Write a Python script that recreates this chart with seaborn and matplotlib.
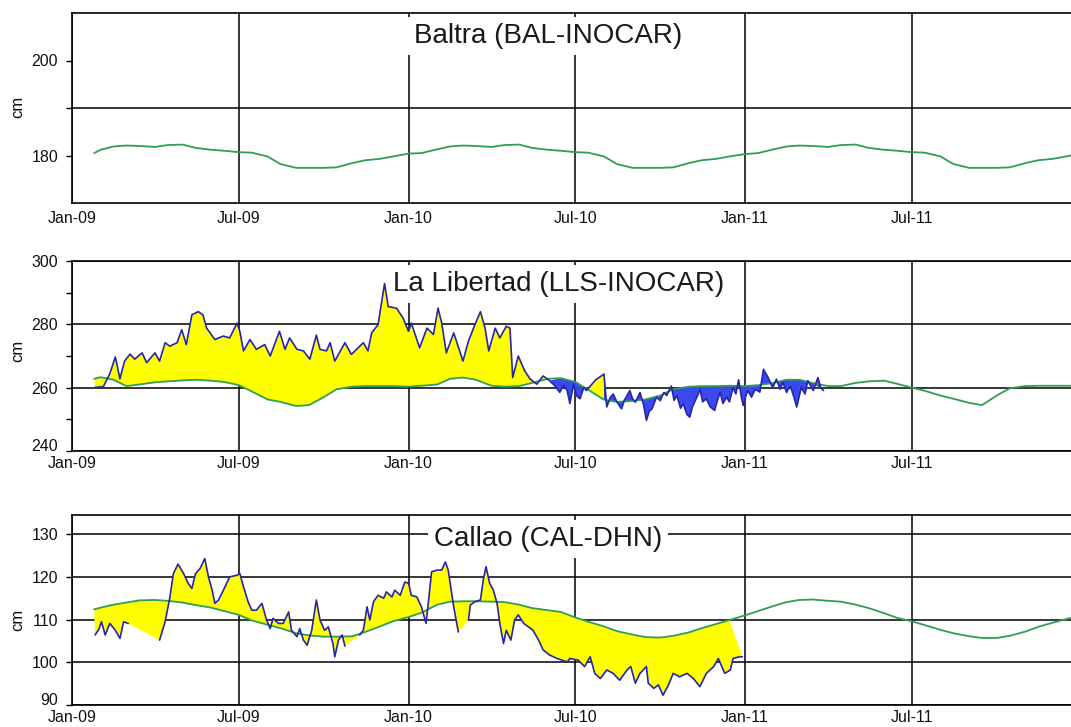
import numpy as np
import pandas as pd
import matplotlib
matplotlib.use("Agg")
import matplotlib.pyplot as plt
import matplotlib.dates as mdates
import seaborn as sns

# ---------------- data ----------------
BASE = "2009-01-01"
# predicted (green) series: 2009-01-25, then 1st/15th of each month, then 2011-12-20
pred_first, pred_last = "2009-01-25", "2011-12-20"

bal_pred = [180.5, 181.2, 181.9, 182.1, 182.0, 181.8, 182.2, 182.3, 181.6, 181.2, 181.0, 180.7,
            180.6, 179.8, 178.2, 177.4, 177.4, 177.4, 177.5, 178.4, 179.0, 179.3, 179.8,
            180.4, 180.5, 181.3, 181.9, 182.1, 182.0, 181.8, 182.2, 182.3, 181.6, 181.2, 181.0,
            180.7, 180.6, 179.8, 178.2, 177.4, 177.4, 177.4, 177.5, 178.4, 179.0, 179.3, 179.8,
            180.3, 180.5, 181.3, 181.9, 182.1, 182.0, 181.8, 182.2, 182.3, 181.6, 181.2, 181.0,
            180.7, 180.6, 179.8, 178.2, 177.4, 177.4, 177.4, 177.5, 178.4, 179.0, 179.3, 179.8, 180.0]

lib_pred = [262.8, 263.3, 262.5, 260.5, 261.0, 261.7, 262.0, 262.3, 262.5, 262.2, 261.8, 260.8,
            258.8, 256.3, 255.5, 254.2, 254.5, 257.0, 259.5, 260.3, 260.5, 260.5, 260.5,
            260.3, 260.6, 261.0, 262.8, 263.2, 262.5, 260.6, 260.3, 260.5, 261.5, 262.8, 263.0,
            261.8, 259.3, 256.2, 255.5, 255.8, 256.3, 257.5, 259.5, 260.3, 260.5, 260.5, 260.6,
            260.5, 260.8, 261.5, 262.5, 262.5, 261.5, 260.5, 260.5, 261.5, 262.0, 262.2, 261.2,
            260.0, 259.0, 257.5, 256.5, 255.2, 254.5, 257.5, 259.8, 260.5, 260.6, 260.6, 260.6, 260.6]

cal_pred = [112.4, 112.8, 113.5, 114.0, 114.5, 114.6, 114.4, 114.0, 113.4, 112.8, 112.0, 111.1,
            109.8, 108.8, 108.0, 106.8, 106.3, 106.0, 106.0, 106.1, 107.1, 108.4, 109.6,
            110.6, 111.6, 113.5, 114.2, 114.3, 114.3, 114.2, 114.1, 113.5, 112.7, 112.2, 111.8,
            110.5, 109.5, 108.4, 107.3, 106.5, 105.9, 105.8, 106.2, 107.0, 108.0, 109.0, 109.9,
            111.0, 112.0, 113.2, 114.1, 114.6, 114.7, 114.4, 114.2, 113.5, 112.7, 111.5, 110.4,
            109.6, 108.7, 107.6, 106.8, 106.1, 105.7, 105.7, 106.2, 107.2, 108.3, 109.3, 110.1, 110.4]

# observed (blue) series: day offsets from 2009-01-01 and values
lib_obs_day = [25, 34, 41, 47, 52, 57, 63, 68, 76, 81, 90, 95, 101, 106, 114, 119, 124, 130, 137, 142,
               146, 155, 164, 171, 179, 182, 186, 193, 200, 209, 215, 225, 231, 236, 244, 251, 258,
               265, 269, 276, 280, 285, 296, 303, 316, 321, 325, 332, 339, 343, 352, 359, 365, 368,
               377, 385, 392, 397, 401, 406, 414, 424, 430, 437, 443, 448, 452, 459, 464, 471, 475,
               478, 484, 491, 497, 504, 511, 518,
               524, 529, 533, 537, 540, 544, 547, 551, 555, 558, 568, 577, 580, 584, 587, 591, 596,
               599, 602, 605, 608, 611, 616, 620, 623, 626, 629, 634, 638, 642, 645, 650, 653, 656,
               660, 663, 667, 670, 673, 676, 679, 681, 684, 688, 692, 697, 700, 703, 706, 710, 713,
               717, 720, 723, 726, 728, 731, 733, 737, 741, 746, 750, 755, 760, 764, 768, 771, 775,
               779, 783, 786, 791, 795, 798, 804, 809, 812, 815]
lib_obs = [260.1, 260.3, 264.4, 269.7, 262.8, 268.4, 270.6, 269.0, 271.0, 267.9, 271.0, 268.4, 274.2,
           273.1, 274.2, 278.3, 273.6, 283.0, 284.0, 283.0, 278.8, 275.2, 276.3, 275.7, 280.4, 277.8,
           271.6, 275.2, 272.1, 273.6, 270.0, 277.8, 272.1, 275.7, 272.1, 271.6, 269.0, 276.6, 272.1,
           271.6, 274.2, 268.4, 274.2, 270.5, 274.2, 271.6, 277.3, 279.9, 292.9, 285.6, 285.1, 282.0,
           277.8, 280.4, 272.6, 278.8, 276.8, 285.1, 280.4, 271.0, 277.3, 268.4, 274.7, 279.9, 284.0,
           278.8, 271.6, 278.8, 275.7, 279.4, 278.8, 263.2, 270.0, 265.3, 262.7, 261.1, 263.7, 262.2,
           260.5, 258.5, 260.8, 259.1, 255.0, 261.1, 257.5, 256.5, 260.0, 259.1,
           262.5, 264.3, 253.9, 257.0, 258.0, 255.5, 253.3, 256.0, 257.5, 259.1,
           256.5, 255.4, 258.5, 254.5, 249.7, 252.5, 253.3, 257.0, 255.9, 258.5,
           257.5, 260.5, 256.0, 257.5, 253.5, 254.9, 251.5, 250.7, 254.0, 255.9,
           257.8, 259.6, 255.5, 256.5, 254.0, 252.8, 256.0, 258.5, 255.0, 257.0,
           255.5, 260.0, 258.0, 262.5, 257.0, 254.4, 257.5, 259.1, 257.0, 259.5,
           258.6, 265.8, 263.2, 260.0, 262.7, 259.5, 261.7, 258.5, 260.6, 257.0,
           253.9, 260.1, 258.0, 262.2, 259.1, 263.2, 260.0, 259.1]
lib_yellow_periods = [(24, 518), (558, 577)]
lib_blue_periods = [(518, 815)]

cal_obs_day = [25, 29, 32, 36, 41, 47, 52, 56, 61, 78,
               95, 101, 106, 110, 115, 121, 126, 130, 134, 139, 144, 148, 152, 155, 159, 166, 171,
               179, 182, 186, 191, 195, 200, 206, 211, 215, 218, 224, 229, 235, 238, 244, 247, 251,
               255, 260, 265, 269, 274, 278, 283, 285, 289, 293, 296, 304,
               312, 316, 320, 323, 327, 332, 338, 341, 347, 350, 356, 361, 365, 368, 374, 379, 384,
               386, 390, 396, 401, 405, 408, 414, 419, 425,
               430, 432, 437, 443, 446, 449, 453, 457, 461, 464, 468, 471, 476, 480, 484, 490, 495,
               500, 506, 511, 518, 526, 537, 540, 549, 556, 562, 567, 573, 580, 587, 594, 602, 606,
               611, 616, 623, 625, 631, 636, 641, 647, 652, 659, 667, 674, 681, 688, 696, 701, 708,
               714, 717, 724, 727]
cal_obs = [106.4, 107.7, 109.5, 106.4, 109.1, 107.5, 105.6, 109.5, 109.1, np.nan,
           105.2, 109.5, 115.0, 120.8, 123.0, 120.8, 118.5, 117.3, 120.8, 122.0, 124.3, 120.0, 116.9,
           113.8, 114.6, 117.7, 120.0, 120.4, 120.8, 117.7, 114.2, 112.2, 112.2, 113.8, 109.9, 107.9,
           110.3, 109.1, 109.1, 111.8, 107.5, 106.0, 107.9, 105.2, 104.0, 107.5, 114.6, 109.9, 107.5,
           108.3, 104.4, 101.3, 105.2, 106.4, 103.8, np.nan,
           106.4, 107.5, 113.0, 109.9, 114.2, 115.7, 115.0, 116.5, 115.3, 116.9, 115.7, 118.8, 118.5,
           115.7, 115.3, 113.0, 109.1, 113.0, 121.2, 121.6, 121.6, 123.5, 121.6, 113.0, 107.1, np.nan,
           109.9, 113.4, 114.2, 114.6, 119.2, 122.4, 118.5, 116.9, 113.8, 109.1, 104.4, 107.5, 105.2,
           109.9, 111.1, 109.1, 108.3, 107.5, 105.2, 102.9, 101.7, 100.9, 100.1, 100.9, 100.5, 99.0,
           101.3, 97.4, 96.2, 98.2, 97.4, 95.8, 98.2, 99.0, 95.1, 97.4, 99.0, 95.1, 93.9, 94.7, 92.3,
           94.7, 97.4, 96.6, 97.4, 96.2, 94.3, 97.4, 99.0, 100.9, 97.4, 98.2, 100.9, 101.3, 101.3]
cal_yellow_periods = [(24, 727)]

titles = ["Baltra (BAL-INOCAR)", "La Libertad (LLS-INOCAR)", "Callao (CAL-DHN)"]
tick_dates = ["2009-01-01", "2009-07-01", "2010-01-01", "2010-07-01", "2011-01-01", "2011-07-01"]

assert len(lib_obs_day) == len(lib_obs) and len(cal_obs_day) == len(cal_obs)

# ---------------- style ----------------
sns.set_style("white")
plt.rcParams["font.family"] = ["Liberation Sans", "DejaVu Sans"]

GREEN = "#2f9e55"
OBS = "#2626a8"
YELLOW = "#ffff00"
BLUEF = "#3a48ee"

base = pd.Timestamp(BASE)
pred_dates = pd.DatetimeIndex([pd.Timestamp(pred_first)]).append(
    pd.date_range("2009-02-01", "2011-12-15", freq="SMS")).append(
    pd.DatetimeIndex([pd.Timestamp(pred_last)]))
pred_days = np.asarray((pred_dates - base).days)


def to_dates(days):
    return base + pd.to_timedelta(np.asarray(days, dtype=float), unit="D")


def band(ax, od, ov, pv, d0, d1, color, z):
    od = np.asarray(od, float); ov = np.asarray(ov, float); pv = np.asarray(pv, float)
    m = (od >= d0) & (od <= d1) & ~np.isnan(ov)
    mp = (pred_days >= d0) & (pred_days <= d1)
    xs = np.concatenate([od[m], pred_days[mp][::-1]])
    ys = np.concatenate([ov[m], pv[mp][::-1]])
    xn = mdates.date2num(to_dates(xs))
    ax.fill(xn, ys, color=color, lw=0, zorder=z)


def line(ax, dates, vals, color, lw, z):
    df = pd.DataFrame({"date": dates, "val": vals})
    grp = df["val"].isna().cumsum()
    for _, seg in df.dropna().groupby(grp[df["val"].notna()]):
        sns.lineplot(data=seg, x="date", y="val", ax=ax, color=color, lw=lw,
                     zorder=z, estimator=None, sort=False)


fig = plt.figure(figsize=(10.71, 7.27), dpi=100)
W, H = 1071.0, 727.0
left = 72 / W
width = 1 - left
tops = [13, 261, 515]
ph = 190
axes = [fig.add_axes([left, 1 - (t + ph) / H, width, ph / H]) for t in tops]

preds = [bal_pred, lib_pred, cal_pred]
ylims = [(170, 210), (240, 300), (90, 134.5)]
xlim = (pd.Timestamp("2009-01-01"), pd.Timestamp("2011-12-20 12:00"))
title_x = [0.4765, 0.4875, 0.4765]
title_y = [0.879, 0.879, 0.874]
xpad = [6, 3.5, 3.5]
ylab_y = [0.505, 0.526, 0.447]

for i, ax in enumerate(axes):
    if i == 1:
        for d0, d1 in lib_yellow_periods[:1]:
            band(ax, lib_obs_day, lib_obs, lib_pred, d0, d1, YELLOW, 1.5)
        for d0, d1 in lib_blue_periods:
            band(ax, lib_obs_day, lib_obs, lib_pred, d0, d1, BLUEF, 1.5)
        for d0, d1 in lib_yellow_periods[1:]:
            band(ax, lib_obs_day, lib_obs, lib_pred, d0, d1, YELLOW, 1.6)
    if i == 2:
        for d0, d1 in cal_yellow_periods:
            band(ax, cal_obs_day, cal_obs, cal_pred, d0, d1, YELLOW, 1.5)

    line(ax, pred_dates, preds[i], GREEN, 1.3, 2.0)
    if i == 1:
        line(ax, to_dates(lib_obs_day), lib_obs, OBS, 1.2, 2.2)
    if i == 2:
        line(ax, to_dates(cal_obs_day), cal_obs, OBS, 1.2, 2.2)

    ax.set_xlim(*xlim)
    ax.set_ylim(*ylims[i])
    ax.set_xticks(pd.to_datetime(tick_dates))
    ax.xaxis.set_major_formatter(mdates.DateFormatter("%b-%y"))
    ax.set_xlabel("")
    ax.set_ylabel("cm", fontsize=12, color="#111111")
    ax.yaxis.set_label_coords(-0.047, ylab_y[i])

    if i == 0:
        ax.set_yticks([180, 200])
        ax.set_yticks([190], minor=True)
        ax.grid(True, axis="y", which="minor", color="black", lw=1.1)
    elif i == 1:
        ax.set_yticks([240, 260, 280, 300])
        ax.set_yticks([250, 270, 290], minor=True)
        ax.grid(True, axis="y", which="major", color="black", lw=1.1)
    else:
        ax.set_yticks([90, 100, 110, 120, 130])
        ax.grid(True, axis="y", which="major", color="black", lw=1.1)
    ax.grid(True, axis="x", which="major", color="black", lw=1.1)
    ax.set_axisbelow(True)

    ax.tick_params(axis="y", which="both", left=True, direction="out", length=4, width=1,
                   color="black", labelsize=11.5, pad=6, labelcolor="#111111")
    ax.tick_params(axis="x", which="both", bottom=True, length=0, labelsize=11.5,
                   pad=xpad[i], labelcolor="#111111")
    if i > 0:
        # lowest y label sits just above the axis line, as in the original
        ax.yaxis.get_major_ticks()[0].label1.set_verticalalignment("baseline")
    for s in ["left", "top", "bottom"]:
        ax.spines[s].set_color("black")
        ax.spines[s].set_linewidth(1.2)
    ax.spines["right"].set_visible(False)

    ax.text(title_x[i], title_y[i], titles[i], transform=ax.transAxes, ha="center",
            va="center", fontsize=20, color="#1a1a1a", zorder=2.1,
            bbox=dict(boxstyle="square,pad=0.22", fc="white", ec="none"))

fig.savefig("out.png", dpi=100)
